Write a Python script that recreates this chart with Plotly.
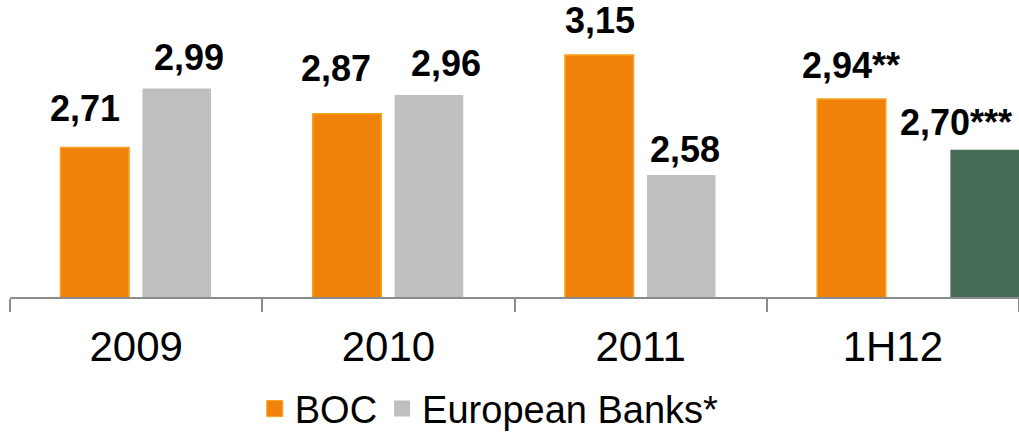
import plotly.graph_objects as go

periods = ["2009", "2010", "2011", "1H12"]
boc = [2.71, 2.87, 3.15, 2.94]
european_banks = [2.99, 2.96, 2.58, 2.70]
boc_notes = ["", "", "", "**"]
eu_notes = ["", "", "", "***"]

ORANGE = "#f0820c"
GREY = "#bfbfbf"
GREEN = "#466b57"
FONT = "Liberation Sans, Arial, sans-serif"

# bar placement inside each category (category units)
BAR_W = 0.272
boc_offset = [-0.30, -0.30, -0.30, -0.30]
eu_offset = [0.025, 0.025, 0.025, 0.228]

# nudges for the value labels (px)
boc_dx = [-51, -52, -41, -42]
eu_dx = [53, 58, 44, 63]
boc_dy = [17, 23, 12, 11]
eu_dy = [9, 9, 3, 5]


def fmt(v, note):
    return f"{v:.2f}".replace(".", ",") + note


fig = go.Figure()

fig.add_trace(go.Bar(
    x=periods, y=boc, name="BOC",
    width=BAR_W, offset=boc_offset,
    marker=dict(color=ORANGE, line=dict(color="#f9a21e", width=1.5)),
    showlegend=False
))
fig.add_trace(go.Bar(
    x=periods, y=european_banks, name="European Banks*",
    width=BAR_W, offset=eu_offset,
    marker=dict(color=[GREY, GREY, GREY, GREEN], line=dict(width=0)),
    showlegend=False
))

# legend entries with bigger square swatches
fig.add_trace(go.Scatter(
    x=[periods[0]], y=[None], mode="markers", name="BOC",
    marker=dict(symbol="square", size=20, color=ORANGE,
                line=dict(color="#f9a21e", width=1))
))
fig.add_trace(go.Scatter(
    x=[periods[0]], y=[None], mode="markers", name="European Banks*",
    marker=dict(symbol="square", size=20, color=GREY)
))

# annotations on a category axis: use the category index as x
for i, p in enumerate(periods):
    fig.add_annotation(x=i, y=boc[i], text=fmt(boc[i], boc_notes[i]),
                       xshift=boc_dx[i], yshift=boc_dy[i], yanchor="bottom",
                       showarrow=False,
                       font=dict(family=FONT, size=36, color="black", weight="bold"))
    fig.add_annotation(x=i, y=european_banks[i], text=fmt(european_banks[i], eu_notes[i]),
                       xshift=eu_dx[i], yshift=eu_dy[i], yanchor="bottom",
                       showarrow=False,
                       font=dict(family=FONT, size=36, color="black", weight="bold"))

fig.update_layout(
    width=1019,
    height=435,
    margin=dict(l=10, r=0, t=5, b=138, autoexpand=False),
    plot_bgcolor="white",
    paper_bgcolor="white",
    barmode="overlay",
    font=dict(family=FONT, color="black"),
    legend=dict(
        orientation="h", xref="container", x=0.25, xanchor="left",
        yref="container", y=0.06, yanchor="middle",
        font=dict(size=38), itemsizing="trace", itemwidth=30,
        tracegroupgap=0
    )
)

fig.update_xaxes(
    type="category", categoryorder="array", categoryarray=periods,
    range=[-0.5, 3.5], tickangle=0, automargin=False,
    showline=True, linecolor="#8c8c8c", linewidth=1.5,
    ticks="outside", tickson="boundaries", ticklen=13, tickcolor="#8c8c8c",
    tickwidth=1.5, tickfont=dict(size=42), ticklabelstandoff=12,
    showgrid=False
)
fig.update_yaxes(range=[2.0, 3.387], visible=False, showgrid=False, automargin=False)

# drop the browser's default body margin so the chart sits at the top-left corner
fig.write_html("out.html", config={"displayModeBar": False},
               post_script="document.body.style.margin = '0';")
